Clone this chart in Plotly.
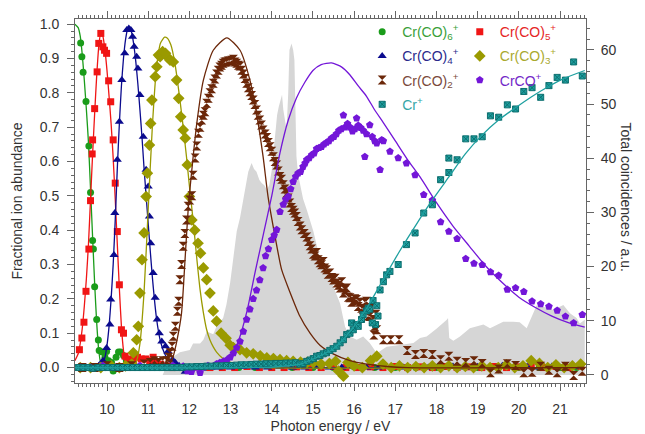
import plotly.graph_objects as go

# ---------------- data (photon energy eV, fractional abundance) ----------------
CR6 = [(9.36,0.945),(9.39,0.905),(9.42,0.86),(9.49,0.775),(9.56,0.645),(9.60,0.51),(9.65,0.37),(9.67,0.345),(9.70,0.235),(9.75,0.14),(9.79,0.08),(9.81,0.05),(9.88,0.045),(9.95,0.03),(9.99,0.047),(10.04,0.02),(10.11,0.015),(10.15,-0.01),(10.22,0.03),(10.28,0.045),(10.33,0.045),(10.40,0.035),(10.47,0.02),(10.55,0.012),(10.65,0.005),(10.8,0.0),(11.0,0.003),(11.3,0.0),(11.6,0.002),(12.0,0.0),(12.4,0.0),(12.8,0.002),(13.2,0.0),(13.6,0.0),(14.0,0.001),(14.5,0.0),(15.0,0.0),(15.5,0.0),(16.0,0.002),(16.5,0.0),(17.0,0.0),(17.5,0.0),(18.0,0.0),(18.5,0.001),(19.0,0.0),(19.5,0.0),(20.0,0.0),(20.5,0.0),(21.0,0.0),(21.4,0.0)]
CR5 = [(9.33,0.052),(9.39,0.086),(9.44,0.132),(9.49,0.222),(9.56,0.345),(9.60,0.486),(9.64,0.622),(9.65,0.663),(9.70,0.754),(9.76,0.861),(9.80,0.944),(9.85,0.973),(9.90,0.934),(9.94,0.924),(9.99,0.915),(10.04,0.835),(10.09,0.774),(10.15,0.663),(10.20,0.537),(10.25,0.396),(10.30,0.241),(10.35,0.11),(10.40,0.10),(10.44,0.033),(10.50,0.02),(10.56,0.025),(10.64,0.02),(10.74,0.03),(10.83,0.025),(10.94,0.025),(11.04,0.02),(11.12,0.03),(11.20,0.015),(11.30,0.01),(11.45,0.005),(11.6,0.0),(11.9,0.0),(12.2,0.002),(12.5,0.0),(12.8,0.0),(13.1,0.0),(13.4,0.003),(13.7,0.0),(14.0,0.0),(14.3,0.0),(14.6,0.002),(14.9,0.0),(15.2,0.0),(15.5,0.003),(15.8,0.0),(16.1,0.0),(16.4,0.002),(16.7,0.0),(17.0,0.003),(17.3,0.0),(17.6,0.002),(17.9,0.0),(18.2,0.003),(18.5,0.0),(18.8,0.002),(19.1,0.0),(19.4,0.003),(19.7,0.0),(20.0,0.002),(20.3,0.005),(20.6,0.0),(20.9,0.003),(21.2,0.0),(21.5,0.004)]
CR4 = [(9.35,0.0),(9.5,0.0),(9.65,0.0),(9.8,0.005),(9.90,0.02),(9.99,0.057),(10.07,0.125),(10.09,0.198),(10.17,0.328),(10.19,0.45),(10.25,0.605),(10.30,0.716),(10.36,0.837),(10.43,0.915),(10.48,0.983),(10.53,0.987),(10.58,0.983),(10.62,0.963),(10.66,0.934),(10.72,0.905),(10.75,0.871),(10.80,0.794),(10.88,0.672),(10.95,0.576),(11.00,0.527),(11.03,0.44),(11.06,0.362),(11.12,0.275),(11.17,0.203),(11.22,0.14),(11.27,0.10),(11.33,0.076),(11.42,0.062),(11.48,0.047),(11.59,0.023),(11.66,0.014),(11.75,0.005),(11.90,-0.012),(12.1,0.0),(12.4,0.002),(12.7,0.0),(13.0,0.0),(13.3,0.002),(13.6,0.0),(13.9,0.0),(14.2,0.002),(14.5,0.0),(14.8,0.0),(15.1,0.002),(15.4,0.0),(15.7,0.0),(16.0,0.003),(16.3,0.0),(16.6,0.0),(16.9,0.002),(17.2,0.0),(17.5,0.004),(17.8,0.0),(18.1,0.0),(18.4,0.003),(18.7,0.0),(19.0,0.002),(19.3,0.0),(19.6,0.005),(19.9,0.0),(20.2,0.002),(20.5,0.0),(20.8,0.003),(21.1,0.0),(21.4,0.002)]
CR3 = [(9.35,0.0),(9.6,0.0),(9.85,0.0),(10.1,0.005),(10.3,0.0),(10.45,0.005),(10.60,0.01),(10.64,0.043),(10.72,0.081),(10.76,0.12),(10.80,0.217),(10.85,0.314),(10.90,0.392),(10.95,0.498),(10.98,0.566),(11.03,0.648),(11.06,0.711),(11.09,0.779),(11.17,0.847),(11.21,0.876),(11.25,0.91),(11.29,0.905),(11.35,0.92),(11.42,0.915),(11.46,0.905),(11.53,0.895),(11.61,0.89),(11.69,0.837),(11.74,0.784),(11.79,0.73),(11.85,0.692),(11.90,0.668),(11.95,0.59),(12.00,0.498),(12.06,0.43),(12.13,0.40),(12.21,0.362),(12.27,0.333),(12.34,0.29),(12.42,0.256),(12.50,0.217),(12.58,0.165),(12.66,0.135),(12.77,0.10),(12.89,0.085),(12.99,0.065),(13.07,0.058),(13.23,0.052),(13.39,0.043),(13.55,0.04),(13.72,0.034),(13.88,0.028),(14.04,0.026),(14.20,0.023),(14.36,0.02),(14.52,0.018),(14.70,0.016),(14.86,0.015),(15.01,0.014),(15.2,0.01),(15.4,0.012),(15.55,0.018),(15.62,-0.01),(15.74,-0.025),(15.85,0.015),(16.0,0.005),(16.2,0.0),(16.4,0.02),(16.55,0.033),(16.7,0.01),(16.9,0.0),(17.1,0.005),(17.3,0.0),(17.5,0.003),(17.7,0.0),(17.9,0.005),(18.1,0.0),(18.3,0.005),(18.5,0.0),(18.7,0.003),(18.9,0.0),(19.1,0.005),(19.3,0.0),(19.5,0.0),(19.7,0.008),(19.9,0.0),(20.1,0.005),(20.3,0.02),(20.5,0.012),(20.7,0.0),(20.9,0.008),(21.1,0.0),(21.3,0.005),(21.5,0.01)]
CR2 = [(9.4,0.0),(9.7,0.0),(10.0,0.005),(10.3,0.0),(10.6,0.005),(10.9,0.01),(11.05,0.015),(11.15,0.02),(11.25,0.015),(11.35,0.02),(11.45,0.02),(11.50,0.03),(11.53,0.043),(11.58,0.062),(11.61,0.091),(11.66,0.12),(11.71,0.164),(11.74,0.193),(11.77,0.256),(11.81,0.30),(11.85,0.353),(11.89,0.39),(11.93,0.43),(11.97,0.47),(12.01,0.488),(12.06,0.50),(12.09,0.56),(12.14,0.61),(12.18,0.645),(12.22,0.682),(12.26,0.70),(12.30,0.721),(12.34,0.735),(12.38,0.745),(12.42,0.77),(12.46,0.784),(12.50,0.80),(12.54,0.812),(12.58,0.828),(12.62,0.84),(12.66,0.855),(12.70,0.866),(12.74,0.875),(12.78,0.88),(12.82,0.886),(12.86,0.89),(12.90,0.89),(12.94,0.893),(12.98,0.893),(13.03,0.895),(13.07,0.898),(13.11,0.89),(13.15,0.886),(13.19,0.88),(13.23,0.878),(13.27,0.866),(13.31,0.855),(13.35,0.842),(13.39,0.828),(13.43,0.815),(13.47,0.803),(13.51,0.792),(13.55,0.779),(13.59,0.766),(13.63,0.75),(13.67,0.735),(13.71,0.721),(13.75,0.706),(13.79,0.692),(13.84,0.68),(13.88,0.67),(13.92,0.655),(13.96,0.643),(14.00,0.63),(14.04,0.614),(14.08,0.60),(14.12,0.59),(14.16,0.572),(14.20,0.556),(14.24,0.548),(14.28,0.532),(14.32,0.52),(14.36,0.508),(14.40,0.494),(14.44,0.479),(14.48,0.466),(14.52,0.458),(14.56,0.45),(14.60,0.44),(14.64,0.425),(14.69,0.412),(14.73,0.401),(14.79,0.39),(14.85,0.38),(14.89,0.367),(14.93,0.355),(14.97,0.345),(15.01,0.33),(15.05,0.325),(15.09,0.335),(15.13,0.314),(15.17,0.305),(15.21,0.299),(15.25,0.309),(15.29,0.29),(15.33,0.285),(15.37,0.272),(15.41,0.275),(15.46,0.262),(15.50,0.255),(15.54,0.26),(15.58,0.246),(15.62,0.24),(15.66,0.232),(15.70,0.25),(15.74,0.217),(15.78,0.226),(15.82,0.232),(15.86,0.205),(15.90,0.203),(15.94,0.19),(15.98,0.193),(16.02,0.2),(16.06,0.198),(16.10,0.178),(16.14,0.19),(16.18,0.173),(16.22,0.17),(16.26,0.19),(16.30,0.193),(16.34,0.15),(16.38,0.149),(16.42,0.175),(16.46,0.14),(16.50,0.12),(16.53,0.155),(16.55,0.11),(16.48,0.095),(16.71,0.081),(16.89,0.081),(17.09,0.081),(17.29,0.05),(17.49,0.038),(17.69,0.041),(17.90,0.038),(18.10,0.023),(18.30,0.033),(18.50,0.018),(18.71,0.015),(18.91,0.02),(19.11,0.012),(19.31,-0.015),(19.51,-0.004),(19.72,0.011),(19.92,0.006),(20.12,-0.015),(20.32,-0.014),(20.53,0.004),(20.73,-0.008),(20.93,-0.015),(21.13,0.004),(21.33,-0.023),(21.54,-0.011)]
CR1 = [(9.35,0.0),(9.6,0.0),(9.9,0.005),(10.2,0.0),(10.5,0.0),(10.8,0.005),(11.1,0.0),(11.4,0.0),(11.6,0.005),(11.75,0.0),(11.85,0.004),(11.95,-0.01),(12.05,-0.012),(12.15,0.0),(12.26,-0.015),(12.35,0.0),(12.45,0.005),(12.58,0.004),(12.66,0.01),(12.74,0.014),(12.83,0.018),(12.91,0.022),(12.99,0.03),(13.07,0.042),(13.15,0.058),(13.23,0.076),(13.31,0.105),(13.39,0.14),(13.47,0.17),(13.55,0.20),(13.63,0.225),(13.71,0.255),(13.79,0.29),(13.85,0.325),(13.92,0.345),(14.00,0.372),(14.06,0.385),(14.12,0.401),(14.20,0.454),(14.28,0.475),(14.34,0.49),(14.40,0.498),(14.46,0.52),(14.52,0.541),(14.58,0.556),(14.64,0.566),(14.70,0.57),(14.76,0.585),(14.81,0.595),(14.85,0.605),(14.91,0.61),(14.97,0.619),(15.03,0.624),(15.09,0.637),(15.15,0.64),(15.21,0.643),(15.27,0.65),(15.33,0.655),(15.39,0.66),(15.45,0.668),(15.51,0.672),(15.57,0.68),(15.63,0.69),(15.69,0.695),(15.74,0.735),(15.78,0.70),(15.84,0.71),(15.90,0.70),(15.96,0.688),(16.02,0.695),(16.06,0.726),(16.10,0.705),(16.16,0.698),(16.22,0.69),(16.26,0.614),(16.30,0.68),(16.38,0.706),(16.44,0.672),(16.50,0.66),(16.55,0.653),(16.63,0.576),(16.67,0.663),(16.71,0.66),(16.87,0.629),(17.07,0.61),(17.27,0.595),(17.48,0.561),(17.69,0.503),(17.90,0.487),(18.10,0.424),(18.30,0.396),(18.50,0.375),(18.71,0.317),(18.91,0.303),(19.11,0.299),(19.31,0.278),(19.51,0.268),(19.72,0.227),(19.92,0.232),(20.12,0.221),(20.32,0.193),(20.53,0.185),(20.73,0.178),(20.93,0.166),(21.13,0.149),(21.33,0.13),(21.54,0.154)]
CR0 = [(9.30,0.0),(9.42,0.0),(9.54,0.0),(9.66,-0.002),(9.78,0.0),(9.90,0.0),(10.02,0.0),(10.14,0.0),(10.26,0.0),(10.38,0.0),(10.50,0.0),(10.62,0.0),(10.74,0.0),(10.86,0.0),(10.98,0.0),(11.10,0.0),(11.22,0.0),(11.34,0.0),(11.46,0.0),(11.58,0.0),(11.70,0.0),(11.82,0.0),(11.94,0.002),(12.06,0.002),(12.18,0.003),(12.30,0.003),(12.42,0.004),(12.54,0.004),(12.66,0.005),(12.78,0.005),(12.90,0.006),(13.02,0.006),(13.14,0.007),(13.26,0.008),(13.38,0.008),(13.50,0.009),(13.62,0.01),(13.74,0.01),(13.86,0.011),(13.98,0.011),(14.10,0.012),(14.22,0.012),(14.34,0.013),(14.46,0.013),(14.58,0.014),(14.68,0.01),(14.76,0.012),(14.85,0.018),(14.93,0.022),(15.01,0.026),(15.09,0.033),(15.17,0.035),(15.25,0.04),(15.33,0.043),(15.41,0.05),(15.49,0.055),(15.58,0.062),(15.66,0.072),(15.74,0.081),(15.82,0.096),(15.90,0.10),(15.94,0.13),(15.98,0.11),(16.06,0.125),(16.10,0.12),(16.18,0.14),(16.22,0.154),(16.30,0.165),(16.34,0.173),(16.38,0.17),(16.46,0.195),(16.55,0.18),(16.58,0.15),(16.52,0.125),(16.44,0.13),(16.63,0.226),(16.71,0.25),(16.79,0.27),(16.87,0.28),(17.07,0.30),(17.27,0.358),(17.48,0.392),(17.69,0.45),(17.90,0.474),(18.10,0.547),(18.30,0.568),(18.30,0.61),(18.50,0.605),(18.71,0.666),(18.91,0.666),(19.11,0.672),(19.31,0.733),(19.51,0.729),(19.72,0.765),(19.92,0.753),(20.12,0.804),(20.32,0.815),(20.53,0.787),(20.73,0.821),(20.93,0.845),(21.13,0.837),(21.33,0.89),(21.54,0.849)]

# fitted model curves
FIT6 = [(9.22,1.0),(9.30,0.99),(9.35,0.965),(9.40,0.91),(9.45,0.835),(9.50,0.75),(9.55,0.655),(9.60,0.52),(9.65,0.38),(9.70,0.245),(9.75,0.13),(9.80,0.05),(9.85,0.012),(9.90,0.0),(10.0,0.0),(21.6,0.0)]
FIT5 = [(9.22,0.02),(9.30,0.04),(9.35,0.07),(9.40,0.115),(9.45,0.18),(9.50,0.26),(9.55,0.36),(9.60,0.49),(9.65,0.62),(9.70,0.74),(9.75,0.85),(9.80,0.935),(9.85,0.975),(9.90,0.965),(9.95,0.925),(10.00,0.865),(10.05,0.79),(10.10,0.71),(10.15,0.61),(10.20,0.49),(10.25,0.36),(10.30,0.23),(10.35,0.12),(10.40,0.05),(10.45,0.015),(10.50,0.0),(10.7,0.0),(21.6,0.0)]
FIT4 = [(9.22,0.0),(9.80,0.0),(9.90,0.015),(9.95,0.03),(10.00,0.065),(10.05,0.12),(10.10,0.20),(10.15,0.30),(10.20,0.43),(10.25,0.58),(10.30,0.71),(10.35,0.82),(10.40,0.90),(10.45,0.955),(10.50,0.985),(10.55,0.99),(10.60,0.975),(10.65,0.94),(10.70,0.89),(10.75,0.825),(10.80,0.75),(10.85,0.67),(10.90,0.58),(10.95,0.50),(11.00,0.42),(11.05,0.34),(11.10,0.265),(11.15,0.20),(11.20,0.145),(11.25,0.105),(11.30,0.075),(11.40,0.04),(11.50,0.02),(11.60,0.008),(11.70,0.0),(11.9,0.0),(21.6,0.0)]
FIT3 = [(9.22,0.0),(10.5,0.0),(10.65,0.005),(10.72,0.02),(10.80,0.07),(10.90,0.22),(11.00,0.46),(11.10,0.70),(11.20,0.87),(11.30,0.945),(11.40,0.962),(11.46,0.96),(11.55,0.94),(11.65,0.885),(11.77,0.78),(11.85,0.70),(11.93,0.614),(12.00,0.53),(12.09,0.43),(12.17,0.33),(12.26,0.227),(12.34,0.16),(12.42,0.11),(12.50,0.08),(12.58,0.06),(12.66,0.045),(12.80,0.028),(12.91,0.02),(13.1,0.01),(13.4,0.004),(13.8,0.0),(21.6,0.0)]
FIT2 = [(9.22,0.0),(11.3,0.0),(11.50,0.005),(11.60,0.03),(11.70,0.08),(11.81,0.159),(11.89,0.304),(11.97,0.459),(12.06,0.576),(12.18,0.711),(12.34,0.837),(12.58,0.924),(12.91,0.96),(13.23,0.924),(13.47,0.837),(13.63,0.74),(13.79,0.614),(13.91,0.498),(14.08,0.382),(14.24,0.285),(14.44,0.22),(14.68,0.15),(14.93,0.10),(15.17,0.065),(15.49,0.04),(15.90,0.02),(16.30,0.01),(16.8,0.003),(17.3,0.0),(21.6,0.0)]
FIT1 = [(9.22,0.0),(12.6,0.0),(12.8,0.005),(13.0,0.025),(13.2,0.08),(13.4,0.165),(13.6,0.28),(13.8,0.39),(14.0,0.50),(14.2,0.625),(14.4,0.72),(14.6,0.785),(14.8,0.83),(15.0,0.865),(15.2,0.882),(15.45,0.887),(15.7,0.875),(15.9,0.852),(16.1,0.82),(16.3,0.79),(16.5,0.75),(16.7,0.715),(17.0,0.66),(17.3,0.605),(17.6,0.555),(18.0,0.48),(18.4,0.412),(18.8,0.353),(19.2,0.295),(19.6,0.247),(20.0,0.205),(20.4,0.175),(20.8,0.15),(21.2,0.131),(21.6,0.118)]
FIT0 = [(9.22,0.0),(13.8,0.0),(14.2,0.003),(14.7,0.01),(15.1,0.03),(15.5,0.055),(15.9,0.105),(16.3,0.172),(16.7,0.255),(17.1,0.338),(17.5,0.415),(17.9,0.488),(18.3,0.555),(18.7,0.622),(19.1,0.676),(19.5,0.72),(19.9,0.755),(20.3,0.788),(20.7,0.817),(21.1,0.842),(21.6,0.865)]

# total coincidences (right axis, a.u.)
TOTAL = [(11.35,0.0),(11.53,3.0),(11.77,4.2),(12.01,4.6),(12.09,5.8),(12.26,5.8),(12.34,6.5),(12.42,8.0),(12.58,7.5),(12.66,9.0),(12.82,10.5),(12.90,13.0),(12.99,17.0),(13.07,22.0),(13.15,26.5),(13.23,29.0),(13.31,32.5),(13.39,36.0),(13.43,37.5),(13.51,39.1),(13.57,38.0),(13.63,37.5),(13.70,36.0),(13.76,35.4),(13.82,35.0),(13.88,34.2),(13.94,35.0),(14.00,37.8),(14.05,42.0),(14.09,45.2),(14.13,48.0),(14.17,49.5),(14.21,50.5),(14.25,51.7),(14.28,49.0),(14.31,47.7),(14.36,45.2),(14.40,52.0),(14.43,60.0),(14.48,61.2),(14.52,60.0),(14.55,58.2),(14.57,48.0),(14.60,40.3),(14.64,37.0),(14.68,35.5),(14.76,32.5),(14.85,30.5),(15.01,26.5),(15.09,24.0),(15.17,21.5),(15.33,19.4),(15.49,16.3),(15.58,14.5),(15.66,13.2),(15.72,11.0),(15.78,8.9),(15.90,7.1),(16.06,6.5),(16.22,7.1),(16.38,5.9),(16.55,4.0),(16.79,5.2),(17.11,5.5),(17.44,5.9),(17.60,6.8),(17.76,7.1),(18.00,8.5),(18.16,9.5),(18.25,10.2),(18.28,10.5),(18.31,6.8),(18.41,6.3),(18.57,7.1),(18.81,8.6),(19.14,9.3),(19.30,8.6),(19.62,9.8),(19.86,9.8),(20.02,9.7),(20.19,8.6),(20.35,11.2),(20.43,12.8),(20.75,12.3),(20.83,12.0),(21.08,12.9),(21.24,11.4),(21.40,10.5),(21.48,9.5),(21.60,10.2)]

LABELS = ["Cr(CO)<sub>6</sub><sup>+</sup>", "Cr(CO)<sub>5</sub><sup>+</sup>", "Cr(CO)<sub>4</sub><sup>+</sup>",
          "Cr(CO)<sub>3</sub><sup>+</sup>", "Cr(CO)<sub>2</sub><sup>+</sup>", "CrCO<sup>+</sup>", "Cr<sup>+</sup>"]

# ---------------- styling ----------------
def col(p, i):
    return [t[i] for t in p]

series = [
    (CR6, FIT6, LABELS[0], '#1a9c1a', '#3a9f3a', 'circle', 7, 'legend'),
    (CR5, FIT5, LABELS[1], '#f01515', '#e52525', 'square', 7, 'legend2'),
    (CR4, FIT4, LABELS[2], '#0b0b8e', '#2a2a8c', 'triangle-up', 8, 'legend'),
    (CR3, FIT3, LABELS[3], '#9a9a00', '#a9a92e', 'diamond', 9, 'legend2'),
    (CR2, FIT2, LABELS[4], '#6b2709', '#7a4a3c', 'hourglass', 9, 'legend'),
    (CR1, FIT1, LABELS[5], '#7316d8', '#7328c8', 'pentagon', 8, 'legend2'),
    (CR0, FIT0, LABELS[6], '#1fa0a0', '#35a6a6', 'square-x', 6, 'legend'),
]

fig = go.Figure()
fig.add_trace(go.Scatter(x=col(TOTAL, 0), y=col(TOTAL, 1), mode='lines', fill='tozeroy',
                         line=dict(width=0, color='#d6d6d6'), fillcolor='#d6d6d6',
                         yaxis='y', showlegend=False, hoverinfo='skip'))

for i, (pts, fit, name, c, tc, sym, sz, leg) in enumerate(series):
    mline = dict(width=1, color='#0c6e6e') if sym == 'square-x' else dict(width=0)
    fig.add_trace(go.Scatter(x=col(pts, 0), y=col(pts, 1), mode='markers', yaxis='y2',
                             marker=dict(symbol=sym, size=sz, color=c, line=mline),
                             name='<span style="color:%s">%s</span>' % (tc, name),
                             legend=leg, legendgroup='g%d' % i))
    fig.add_trace(go.Scatter(x=col(fit, 0), y=col(fit, 1), mode='lines', yaxis='y2',
                             line=dict(color=c, width=1.3, shape='spline', smoothing=0.6),
                             showlegend=False, hoverinfo='skip'))

FONT = 'Liberation Sans, Arial, Helvetica, sans-serif'
axcol = '#666666'
tickfont = dict(family=FONT, size=14, color='#333333')

fig.update_layout(
    template='none',
    width=637, height=426,
    margin=dict(l=67, r=59, t=11, b=51, autoexpand=False),
    plot_bgcolor='white', paper_bgcolor='white',
    font=dict(family=FONT, size=14, color='#333333'),
    xaxis=dict(range=[9.223, 21.63], tick0=10, dtick=1, ticks='outside', ticklen=7, tickcolor=axcol,
               showline=True, linecolor=axcol, linewidth=1, mirror='ticks', showgrid=False, zeroline=False,
               automargin=False, ticklabelstandoff=6,
               minor=dict(dtick=0.1, ticks='outside', ticklen=3, tickcolor=axcol, showgrid=False),
               tickfont=tickfont,
               title=dict(text='Photon energy / eV', standoff=5, font=dict(family=FONT, size=14, color='#333333'))),
    yaxis=dict(range=[-1.5, 65.7], side='right', tick0=0, dtick=10, ticks='outside', ticklen=7, tickcolor=axcol,
               showline=True, linecolor=axcol, linewidth=1, showgrid=False, zeroline=False, automargin=False,
               ticklabelstandoff=4,
               minor=dict(dtick=2, ticks='outside', ticklen=3, tickcolor=axcol, showgrid=False),
               tickfont=tickfont),
    yaxis2=dict(range=[-0.045, 1.015], side='left', overlaying='y', tick0=0, dtick=0.1, tickformat='.1f',
                ticks='outside', ticklen=7, tickcolor=axcol, automargin=False,
                showline=True, linecolor=axcol, linewidth=1, showgrid=False, zeroline=False,
                ticklabelstandoff=5,
                minor=dict(dtick=0.02, ticks='outside', ticklen=3, tickcolor=axcol, showgrid=False),
                tickfont=tickfont,
                title=dict(text='Fractional ion abundance', standoff=13, font=dict(family=FONT, size=14, color='#333333'))),
    legend=dict(x=0.562, y=1.008, xanchor='left', yanchor='top', bgcolor='rgba(0,0,0,0)',
                tracegroupgap=3, itemwidth=30, font=dict(family=FONT, size=14)),
    legend2=dict(x=0.753, y=1.008, xanchor='left', yanchor='top', bgcolor='rgba(0,0,0,0)',
                 tracegroupgap=3, itemwidth=30, font=dict(family=FONT, size=14)),
    annotations=[dict(text='Total coincidences / a.u.', xref='paper', yref='paper', x=1.078, y=0.51,
                      xanchor='center', yanchor='middle', textangle=90, showarrow=False,
                      font=dict(family=FONT, size=14, color='#333333'))],
)

fig.write_html("out.html")
